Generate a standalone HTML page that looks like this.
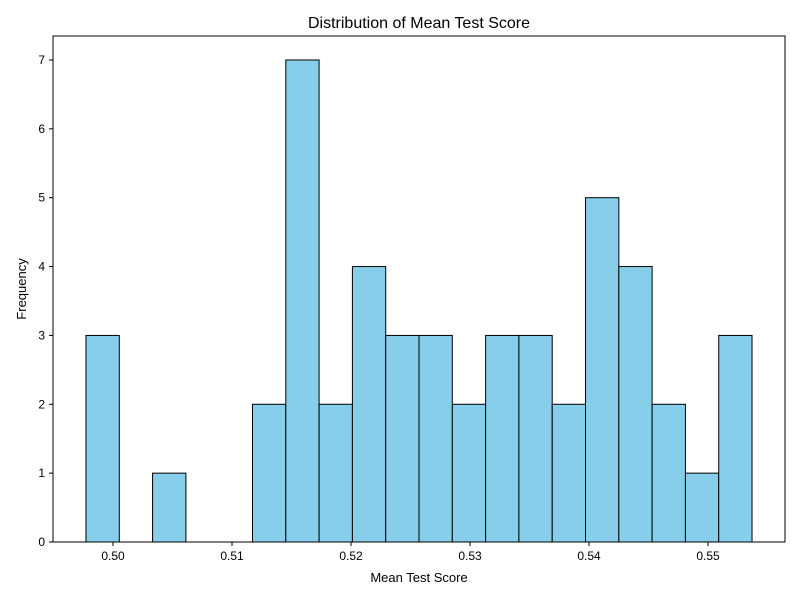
<!DOCTYPE html>
<html><head><meta charset="utf-8"><style>
body{margin:0;background:#fff;}
svg{display:block;font-family:"Liberation Sans","DejaVu Sans",sans-serif;}
</style></head><body>
<svg id="chart" width="800" height="600">
<rect x="0" y="0" width="800" height="600" fill="#fff"></rect>
<text x="419" y="28" text-anchor="middle" font-size="16">Distribution of Mean Test Score</text>
<text x="419" y="582" text-anchor="middle" font-size="13">Mean Test Score</text>
<text transform="translate(26,289) rotate(-90)" text-anchor="middle" font-size="13">Frequency</text>
<g id="bars"></g><g id="axes"></g>
</svg>
<script>
const binStart = 0.49773;
const binWidth = 0.0027985;
const counts = [3,0,1,0,0,2,7,2,4,3,3,2,3,3,2,5,4,2,1,3];
const xTicks = [0.50,0.51,0.52,0.53,0.54,0.55];
const xTickLabels = ["0.50","0.51","0.52","0.53","0.54","0.55"];
const yTicks = [0,1,2,3,4,5,6,7];

const L=53,R=785,T=36,B=542;
const xs = v => 113 + (v-0.50)*11900;
const ys = v => 542 - v*68.86;
const NS="http://www.w3.org/2000/svg";
const bars=document.getElementById('bars'), axes=document.getElementById('axes');
function mk(tag,attrs,parent){const e=document.createElementNS(NS,tag);for(const k in attrs)e.setAttribute(k,attrs[k]);parent.appendChild(e);return e;}
counts.forEach((c,i)=>{
  if(c<=0) return;
  const x0=xs(binStart+i*binWidth), x1=xs(binStart+(i+1)*binWidth);
  const r=mk('rect',{x:x0,y:ys(c),width:x1-x0,height:ys(0)-ys(c),fill:'#87ceeb',stroke:'#000','stroke-width':1},bars);
  
  
});
const frame=mk('rect',{x:L,y:T,width:R-L,height:B-T,fill:'none',stroke:'#000','stroke-width':1},axes);


xTicks.forEach((v,i)=>{
  const x=xs(v);
  mk('line',{x1:x,x2:x,y1:B,y2:B+4,stroke:'#000'},axes);
  const t=mk('text',{x:x,y:B+18,'text-anchor':'middle','font-size':12},axes);
  t.textContent=xTickLabels[i];
  
  
});
yTicks.forEach(v=>{
  const y=ys(v);
  mk('line',{x1:L-4,x2:L,y1:y,y2:y,stroke:'#000'},axes);
  const t=mk('text',{x:L-8,y:y+4,'text-anchor':'end','font-size':12},axes);
  t.textContent=String(v);
  
  
});
</script>
</body></html>
